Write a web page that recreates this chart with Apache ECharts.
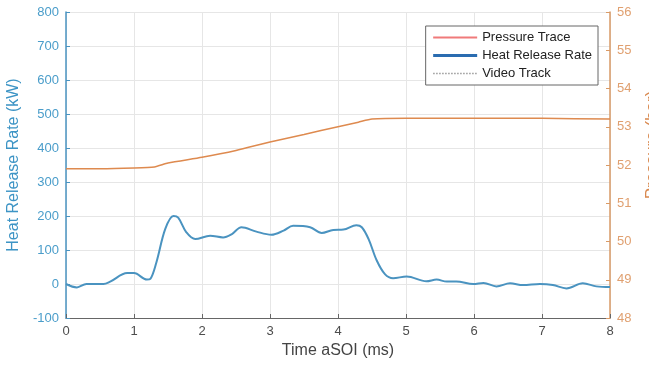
<!DOCTYPE html>
<html>
<head>
<meta charset="utf-8">
<script src="https://cdn.jsdelivr.net/npm/echarts@6/dist/echarts.min.js"></script>
<style>
  html, body { margin: 0; padding: 0; background: #fff; }
  #chart { width: 649px; height: 365px; }
</style>
</head>
<body>
<div id="chart"></div>
<script>
// heat release rate (kW) vs time aSOI (ms)
const hrrTime = [0, 0.16, 0.3, 0.55, 0.65, 0.9, 1.0, 1.19, 1.24, 1.33, 1.46, 1.58, 1.65, 1.77, 1.9,
  2.12, 2.31, 2.44, 2.58, 2.8, 3.02, 3.2, 3.34, 3.59, 3.76, 3.93, 4.08, 4.27, 4.35, 4.45, 4.57,
  4.69, 4.81, 5.01, 5.3, 5.45, 5.6, 5.74, 5.99, 6.14, 6.33, 6.53, 6.72, 6.97, 7.16, 7.36, 7.6, 7.8, 8.0];
const hrrValues = [0, -10, 0, 0, 7, 32, 32, 13, 15, 64, 162, 200, 195, 152, 132,
  142, 137, 147, 167, 154, 145, 157, 171, 167, 150, 159, 160, 173, 167, 132, 69,
  29, 17, 22, 8, 13, 7, 7, 0, 3, -7, 2, -3, 0, -3, -13, 2, -7, -9];

// pressure trace (bar)
const pressureTime = [0, 0.5, 1.0, 1.3, 1.5, 2.0, 2.5, 3.0, 3.5, 4.0, 4.3, 4.5, 5.0, 6.0, 7.0, 8.0];
const pressureValues = [51.9, 51.9, 51.92, 51.95, 52.05, 52.2, 52.38, 52.6, 52.8, 53.0, 53.12, 53.2, 53.22, 53.22, 53.22, 53.2];

const videoTrack = [];

const legendNames = ['Pressure Trace', 'Heat Release Rate', 'Video Track'];

const chart = echarts.init(document.getElementById('chart'));

const blue = '#4a93c0';
const orange = '#de8a4f';

chart.setOption({
  animation: false,
  textStyle: { fontFamily: 'Liberation Sans, Arial, sans-serif' },
  grid: { left: 66, right: 39, top: 12, bottom: 47, show: false, outerBoundsMode: 'none' },
  legend: {
    orient: 'vertical',
    right: 51,
    top: 26,
    width: 170,
    padding: [5, 6, 5, 6],
    itemGap: 5,
    itemWidth: 44,
    itemHeight: 10,
    borderColor: '#666',
    borderWidth: 1,
    backgroundColor: '#fff',
    textStyle: { fontSize: 13, color: '#222' },
    data: [
      { name: legendNames[0], itemStyle: { opacity: 0 }, lineStyle: { color: '#f07a7a', width: 2 } },
      { name: legendNames[1], itemStyle: { opacity: 0 }, lineStyle: { color: '#2a6cb0', width: 3 } },
      { name: legendNames[2], itemStyle: { opacity: 0 }, lineStyle: { color: '#999', width: 1.5, type: 'dotted' } },
    ],
  },
  xAxis: {
    type: 'value',
    min: 0,
    max: 8,
    interval: 1,
    name: 'Time aSOI (ms)',
    nameLocation: 'middle',
    nameGap: 22,
    nameTextStyle: { fontSize: 16, color: '#444' },
    axisLine: { show: true, onZero: false, lineStyle: { color: '#666' } },
    axisTick: { show: true, inside: true, length: 4, lineStyle: { color: '#666' } },
    axisLabel: { fontSize: 13, color: '#4d4d4d', margin: 7 },
    splitLine: { show: true, lineStyle: { color: '#e6e6e6' } },
  },
  yAxis: [
    {
      type: 'value',
      min: -100,
      max: 800,
      interval: 100,
      name: 'Heat Release Rate (kW)',
      nameLocation: 'middle',
      nameGap: 39,
      nameTextStyle: { fontSize: 16, color: '#3d94c5' },
      axisLine: { show: true, lineStyle: { color: blue, width: 1.5 } },
      axisTick: { show: true, inside: true, length: 4, lineStyle: { color: blue } },
      axisLabel: { fontSize: 13, color: '#4a9dca', margin: 7 },
      splitLine: { show: true, lineStyle: { color: '#e6e6e6' } },
    },
    {
      type: 'value',
      min: 48,
      max: 56,
      interval: 1,
      position: 'right',
      name: 'Pressure (bar)',
      nameLocation: 'middle',
      nameGap: 34,
      nameRotate: 90,
      nameTextStyle: { fontSize: 17, color: '#d9894f', padding: [0, 0, 0, 40] },
      axisLine: { show: true, lineStyle: { color: '#d99a66', width: 1.5 } },
      axisTick: { show: true, inside: true, length: 4, lineStyle: { color: '#d99a66' } },
      axisLabel: { fontSize: 13, color: '#e0a070', margin: 7 },
      splitLine: { show: false },
    },
  ],
  series: [
    {
      name: legendNames[0],
      type: 'line',
      yAxisIndex: 1,
      symbol: 'none',
      smooth: 0.2,
      data: pressureTime.map((t, i) => [t, pressureValues[i]]),
      lineStyle: { color: orange, width: 1.5 },
      itemStyle: { color: orange },
    },
    {
      name: legendNames[1],
      type: 'line',
      yAxisIndex: 0,
      symbol: 'none',
      smooth: 0.35,
      data: hrrTime.map((t, i) => [t, hrrValues[i]]),
      lineStyle: { color: blue, width: 2 },
      itemStyle: { color: blue },
    },
    {
      name: legendNames[2],
      type: 'line',
      yAxisIndex: 0,
      symbol: 'none',
      data: videoTrack,
      lineStyle: { color: '#999', type: 'dotted' },
      itemStyle: { color: '#999' },
    },
  ],
});
</script>
</body>
</html>
